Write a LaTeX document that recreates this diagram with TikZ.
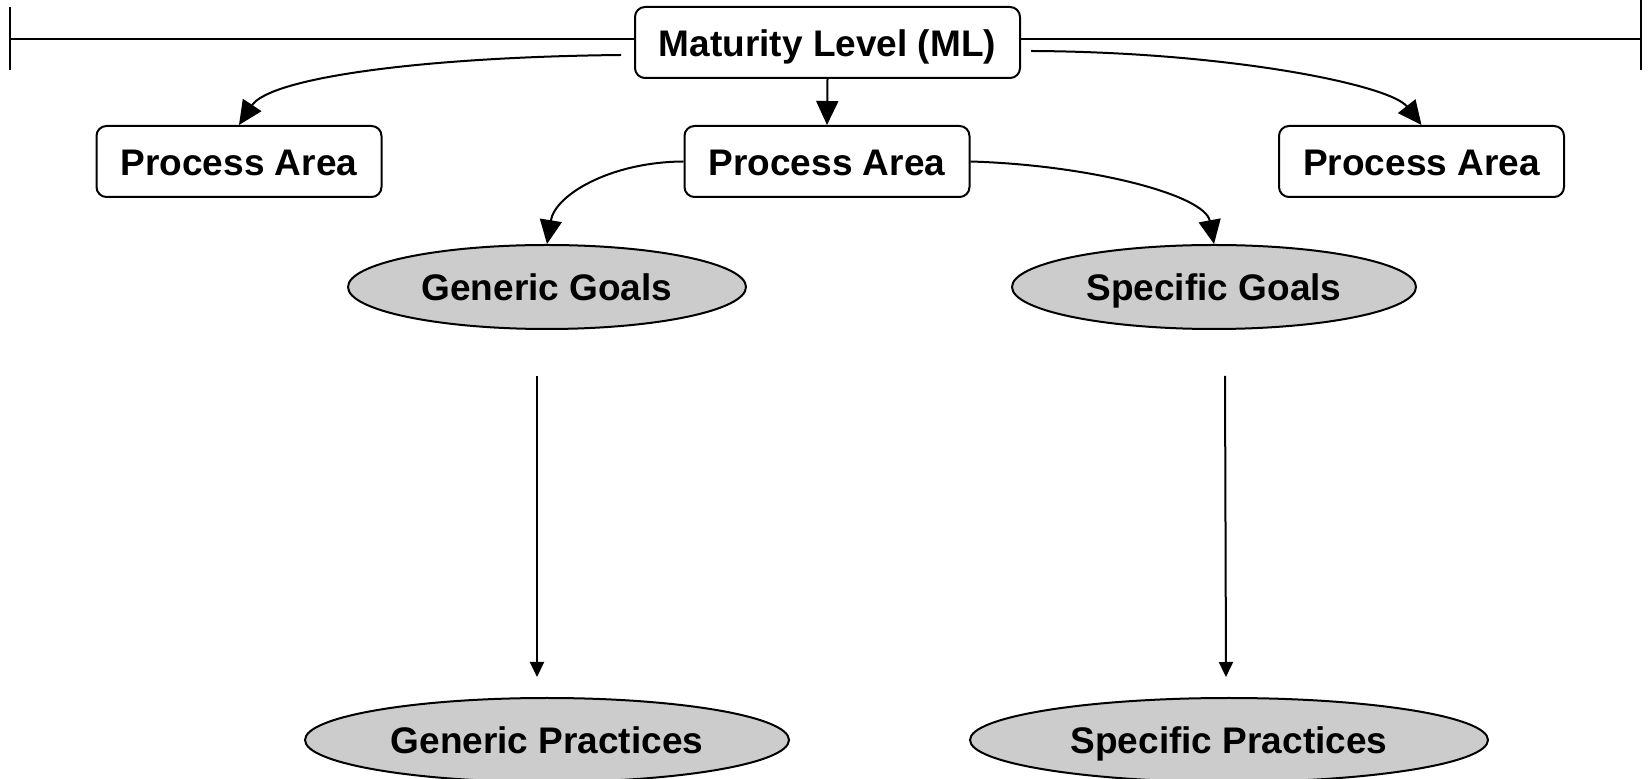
\documentclass[tikz,border=0pt]{standalone}
\usepackage{fontspec}
\setmainfont{Liberation Sans}
\usetikzlibrary{arrows.meta,shapes.geometric,calc}
\begin{document}
\begin{tikzpicture}[x=0.5pt,y=-0.5pt,
  every node/.style={inner sep=0pt,text height=14pt,text depth=0pt,
    font=\fontsize{18.5}{22}\selectfont\bfseries},
  areabox/.style={draw,line width=1pt,rounded corners=5pt,fill=white,
    minimum width=142.5pt,minimum height=35.5pt},
  goal/.style={ellipse,draw,line width=1pt,fill=black!20,minimum height=42pt},
  link/.style={line width=1pt},
  tick/.style={line width=1.3pt},
  bigtip/.style={-{Triangle[length=12pt,width=11pt]}},
  smalltip/.style={-{Triangle[length=7.5pt,width=7pt]}}]
\useasboundingbox (0,0) rectangle (1649,779);

% nodes
\node[areabox,minimum width=192.5pt] (ml) at (827.5,42.5) {Maturity Level (ML)};
\node[areabox] (pa1) at (239,161.5) {Process Area};
\node[areabox] (pa2) at (827,161.5) {Process Area};
\node[areabox] (pa3) at (1421.5,161.5) {Process Area};
\node[goal,minimum width=199pt] (gg) at (547,287) {Generic Goals};
\node[goal,minimum width=202pt] (sg) at (1214,287) {Specific Goals};
\node[goal,minimum width=242pt] (gp) at (547,740) {Generic Practices};
\node[goal,minimum width=259pt] (sp) at (1229,740) {Specific Practices};

% level bar with end ticks
\coordinate (lt) at (10,39);
\coordinate (rt) at (1641,39);
\draw[link] (lt) -- (lt -| ml.west);
\draw[link] (ml.east |- rt) -- (rt);
\draw[tick] ($(lt)+(0,-32)$) -- ($(lt)+(0,31)$);
\draw[tick] ($(rt)+(0,-39)$) -- ($(rt)+(0,31)$);

% maturity level to process areas
\draw[link,bigtip] ($(ml.west)+(-13,12.5)$) .. controls (420,57) and (270,78) .. (pa1.north);
\draw[link,bigtip] (ml.south) -- (pa2.north);
\draw[link,bigtip] ($(ml.east)+(10,8.5)$) .. controls (1230,52) and (1390,85) .. (pa3.north);

% process area to goals
\draw[link,bigtip] (pa2.west) .. controls (610,162) and (555,195) .. (gg.north);
\draw[link,bigtip] (pa2.east) .. controls (1090,165) and (1205,195) .. (sg.north);

% goals to practices
\draw[link,smalltip] ($(gg.south)+(-10,46)$) -- ($(gp.north)+(-10,-20)$);
\draw[link,smalltip] ($(sg.south)+(11,46)$) -- ($(sp.north)+(-3,-20)$);
\end{tikzpicture}
\end{document}
